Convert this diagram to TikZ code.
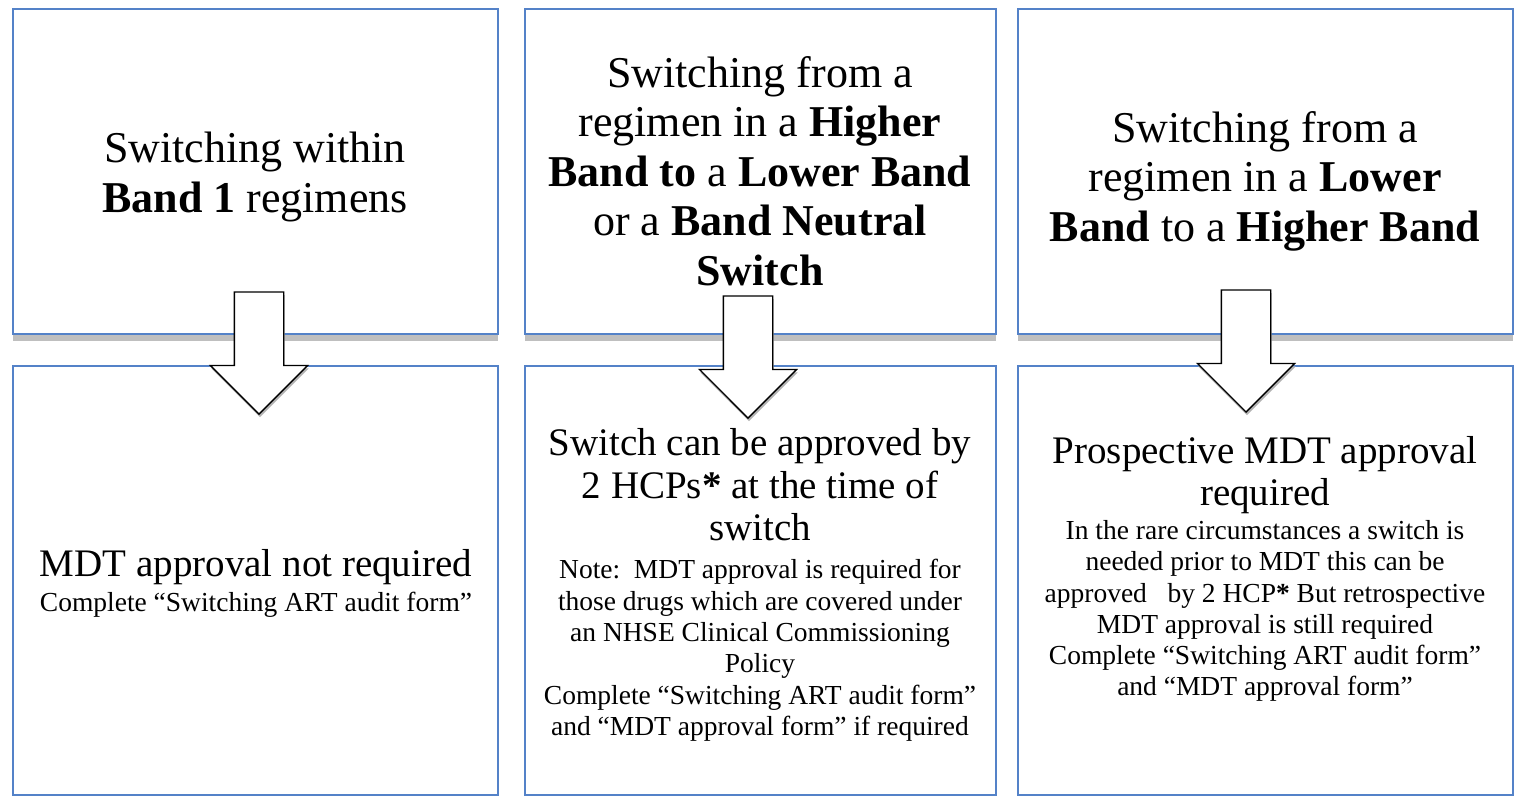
\documentclass[tikz,border=0pt]{standalone}
\usepackage{fontspec}
\setmainfont{Liberation Serif}
\usetikzlibrary{positioning,shapes.arrows,shadows}
\definecolor{boxblue}{RGB}{84,130,200}

\begin{document}
\begin{tikzpicture}[x=1pt,y=-1pt,inner sep=0pt,node distance=7pt]
  \tikzstyle{panel}=[draw=boxblue,line width=1.5pt,fill=white,anchor=north west,
    drop shadow={shadow xshift=1pt,shadow yshift=-1.5pt,fill=black!20,opacity=1}]
  \tikzstyle{upper panel}=[panel,
    drop shadow={shadow xshift=0pt,shadow yshift=-7pt,fill=black!25,opacity=1}]
  \tikzstyle{heading}=[align=center,font=\fontsize{44}{49.5}\selectfont]
  \tikzstyle{verdict}=[align=center,font=\fontsize{39}{42.5}\selectfont]
  \tikzstyle{detail}=[align=center,font=\fontsize{27.5}{31.3}\selectfont]
  \tikzstyle{downarrow}=[single arrow,shape border rotate=270,draw=black,line width=1.3pt,
    fill=white,inner sep=24pt,minimum height=122pt,single arrow head extend=24pt,
    anchor=tip,drop shadow={shadow xshift=1pt,shadow yshift=-3pt,fill=black!30,opacity=1}]

  \useasboundingbox (0,0) rectangle (1519,796);

  % question boxes
  \node[upper panel,minimum width=485pt,minimum height=325pt] (top1) at (12,8) {};
  \node[upper panel,minimum width=471pt,minimum height=325pt] (top2) at (524,8) {};
  \node[upper panel,minimum width=495pt,minimum height=325pt] (top3) at (1017,8) {};

  % answer boxes
  \node[panel,minimum width=485pt,minimum height=429pt] (bot1) at (12,365) {};
  \node[panel,minimum width=471pt,minimum height=429pt] (bot2) at (524,365) {};
  \node[panel,minimum width=495pt,minimum height=429pt] (bot3) at (1017,365) {};

  \node[downarrow] (arr1) at (259,415) {};
  \node[downarrow] (arr2) at (748,419) {};
  \node[downarrow] (arr3) at (1246,413) {};

  \node[heading] (head1) at (255,177) {Switching within\\ \textbf{Band 1} regimens};
  \node[heading] (head2) at (760,171) {Switching from a\\ regimen in a \textbf{Higher}\\
    \textbf{Band to} a \textbf{Lower Band}\\ or a \textbf{Band Neutral}\\ \textbf{Switch}};
  \node[heading] (head3) at (1265,181) {Switching from a\\ regimen in a \textbf{Lower}\\
    \textbf{Band} to a \textbf{Higher Band}};

  \node[verdict,anchor=base] (verd1) at (256,576) {MDT approval not required};
  \node[detail,below=of verd1] (note1) {Complete “Switching ART audit form”};

  \node[verdict] (verd2) at (760,485) {Switch can be approved by\\ 2 HCPs\textbf{*} at the time of\\ switch};
  \node[detail,below=18pt of verd2] (note2) {Note:\ \ MDT approval is required for\\
    those drugs which are covered under\\ an NHSE Clinical Commissioning\\ Policy\\
    Complete “Switching ART audit form”\\ and “MDT approval form” if required};

  \node[verdict] (verd3) at (1265,475) {Prospective MDT approval\\ required};
  \node[detail,below=6pt of verd3] (note3) {In the rare circumstances a switch is\\
    needed prior to MDT this can be\\ approved\ \ \ by 2 HCP\textbf{*} But retrospective\\
    MDT approval is still required\\ Complete “Switching ART audit form”\\
    and “MDT approval form”};
\end{tikzpicture}
\end{document}
